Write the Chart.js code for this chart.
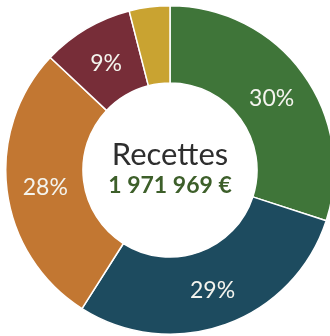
<!DOCTYPE html>
<html><head><meta charset="utf-8">
<script src="https://cdn.jsdelivr.net/npm/chart.js@4/dist/chart.umd.min.js"></script>
<style>
html,body{margin:0;padding:0;background:#fff;overflow:hidden;width:330px;height:336px;}
#wrap{position:absolute;left:5px;top:5px;width:330px;height:330px;}
</style></head>
<body>
<div id="wrap"><canvas id="c" width="330" height="330"></canvas></div>
<script>
const categories = ["Part A", "Part B", "Part C", "Part D", "Part E"];
const values = [30, 29, 28, 9, 4];
const labelsShown = ["30%", "29%", "28%", "9%", ""];
const colors = ["#3f7539", "#1d4b5f", "#c27732", "#772d38", "#c9a331"];
const centerTitle = "Recettes";
const centerValue = "1 971 969 €";

const labelPlugin = {
  id: 'labels',
  afterDatasetsDraw(chart) {
    const ctx = chart.ctx;
    const meta = chart.getDatasetMeta(0);
    ctx.save();
    ctx.textAlign = 'center';
    ctx.textBaseline = 'middle';
    ctx.fillStyle = '#f4f4ee';
    ctx.font = '23px Lato';
    meta.data.forEach((arc, i) => {
      if (!labelsShown[i]) return;
      const p = arc.tooltipPosition();
      ctx.fillText(labelsShown[i], p.x, p.y + 2);
    });
    const cx = meta.data[0].x, cy = meta.data[0].y;
    ctx.fillStyle = '#2e2e2e';
    ctx.font = '31px Lato';
    ctx.fillText(centerTitle, cx, cy - 15);
    ctx.fillStyle = '#3d5f2a';
    ctx.font = 'bold 23px Lato';
    ctx.fillText(centerValue, cx, cy + 16);
    ctx.restore();
  }
};

new Chart(document.getElementById('c'), {
  type: 'doughnut',
  data: {
    labels: categories,
    datasets: [{
      data: values,
      backgroundColor: colors,
      borderColor: '#ffffff',
      borderWidth: 1.5
    }]
  },
  options: {
    responsive: false,
    animation: false,
    cutout: '53%',
    layout: { padding: 0 },
    plugins: { legend: { display: false }, tooltip: { enabled: false } }
  },
  plugins: [labelPlugin]
});
</script>
</body></html>
